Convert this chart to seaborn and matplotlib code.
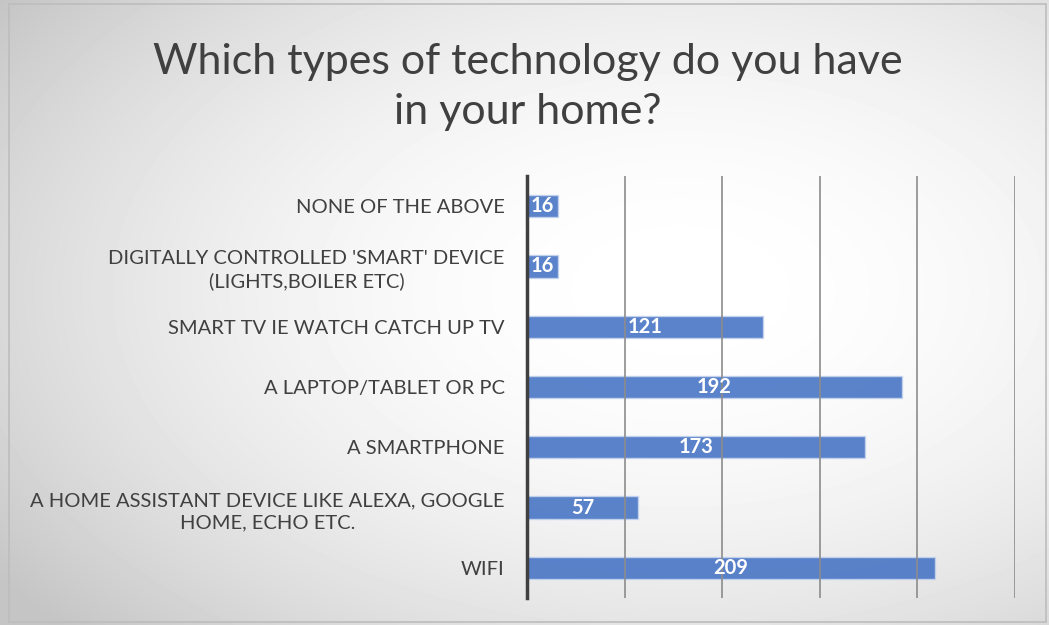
import matplotlib.pyplot as plt
import seaborn as sns
import numpy as np
import pandas as pd
from matplotlib.patches import Rectangle

categories = [
    "NONE OF THE ABOVE",
    "DIGITALLY CONTROLLED 'SMART' DEVICE\n(LIGHTS,BOILER ETC)",
    "SMART TV IE WATCH CATCH UP TV",
    "A LAPTOP/TABLET OR PC",
    "A SMARTPHONE",
    "A HOME ASSISTANT DEVICE LIKE ALEXA, GOOGLE\nHOME, ECHO ETC.",
    "WIFI",
]
counts = [16, 16, 121, 192, 173, 57, 209]
title = "Which types of technology do you have\nin your home?"

df = pd.DataFrame({"tech": categories, "count": counts})

sns.set_theme(style="white")
plt.rcParams['font.family'] = ['Lato', 'DejaVu Sans']

fig = plt.figure(figsize=(10.49, 6.25), dpi=100)

# radial gradient background, light centre and grey corners
bg = fig.add_axes([0, 0, 1, 1], zorder=-10)
yy, xx = np.mgrid[0:625, 0:1049]
r2 = ((xx - 680) / 1049) ** 2 + ((yy - 290) / 625) ** 2
shade = np.clip(1.0 - 0.36 * r2, 0.77, 1.0)
bg.imshow(shade, cmap='gray', vmin=0, vmax=1, aspect='auto', extent=[0, 1049, 625, 0])
bg.add_patch(Rectangle((9, 4), 1037, 618, fill=False, edgecolor='#bdbdbd', lw=1.2))
bg.set_xlim(0, 1049)
bg.set_ylim(625, 0)
bg.axis('off')

ax = fig.add_axes([527 / 1049, 1 - 598 / 625, (1015 - 527) / 1049, (598 - 176) / 625])
ax.patch.set_alpha(0)
sns.barplot(data=df, x="count", y="tech", ax=ax, color='#4472c4', alpha=0.88,
            saturation=1, width=0.37, edgecolor='#c5d4ee', linewidth=1)

ax.set_xlim(0, 250)
ax.set_xticks(np.arange(0, 251, 50))
ax.set_xticklabels([])
ax.grid(axis='x', color='#8c8c8c', lw=1.2, zorder=5)
ax.set_axisbelow(False)
for sp in ['top', 'right', 'bottom']:
    ax.spines[sp].set_visible(False)
ax.spines['left'].set_color('#404040')
ax.spines['left'].set_linewidth(2.5)
ax.spines['left'].set_zorder(6)
ax.set_xlabel("")
ax.set_ylabel("")
ax.tick_params(axis='y', length=0, pad=16, labelsize=14.5, labelcolor='#404040')
ax.tick_params(axis='x', length=0)
for lbl in ax.get_yticklabels():
    lbl.set_multialignment('center')
    lbl.set_linespacing(1.35)

for c in ax.containers:
    ax.bar_label(c, labels=[str(v) for v in counts], label_type='center',
                 color='white', fontweight='bold', fontsize=14.5)

fig.text(528 / 1049, 1 - 87 / 625, title, ha='center', va='center',
         fontsize=31, color='#404040', linespacing=1.4)

fig.savefig("out.png", dpi=100)
